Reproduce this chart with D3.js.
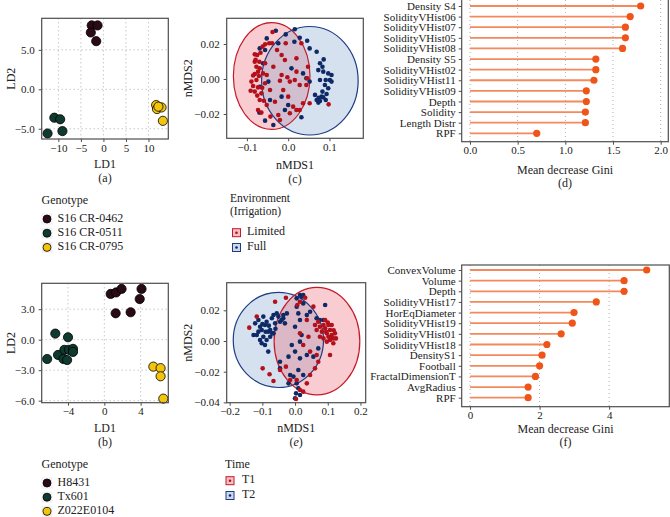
<!DOCTYPE html>
<html><head><meta charset="utf-8">
<script src="https://cdn.jsdelivr.net/npm/d3@7"></script>
<style>
body{margin:0;background:#fff;}
svg{font-family:"Liberation Serif","DejaVu Serif",serif;}
</style></head>
<body>
<svg id="chart" width="670" height="517"></svg>
<script>
// ---------- DATA ----------
// (a) LDA, genotypes
const genoA = ["S16 CR-0462","S16 CR-0511","S16 CR-0795"];
const ldaA_g1 = [[-2.6,8.1],[-1.3,8.1],[-2.8,7.2],[-1.6,6.1]];
const ldaA_g2 = [[-10.9,-3.6],[-9.6,-3.8],[-12.4,-5.6],[-9.1,-5.3]];
const ldaA_g3 = [[11.7,-2.0],[11.9,-2.5],[12.9,-2.3],[13.2,-4.0],[12.2,-2.2]];
const ticksA_x = [-10,-5,0,5,10];
const ticksA_y = [-5,0,5];

// (b) LDA, genotypes
const genoB = ["H8431","Tx601","Z022E0104"];
const ldaB_g1 = [[0.7,4.5],[1.3,4.65],[1.9,5.0],[4.1,5.0],[3.9,4.0],[1.25,2.6],[2.9,2.7]];
const ldaB_g2 = [[-5.4,0.6],[-4.0,0.24],[-6.3,-1.9],[-5.1,-1.5],[-4.4,-1.0],[-3.9,-1.0],[-3.45,-0.9],[-3.45,-1.2],[-4.5,-1.9],[-4.1,-2.0]];
const ldaB_g3 = [[5.4,-2.65],[6.2,-2.8],[6.2,-3.6],[6.5,-5.8]];
const ticksB_x = [-4,0,4];
const ticksB_y = [-6,-3,0,3];

// (c) nMDS, irrigation
const envC = ["Limited","Full"];
const nmdsC_limited = [[-0.038,0.0269],[-0.046,0.0204],[-0.056,0.0198],[-0.062,0.0185],[-0.081,0.0141],[-0.075,0.0137],[-0.070,0.0099],[-0.081,0.0099],[-0.056,0.0090],[-0.077,0.0070],[-0.069,0.0061],[-0.073,0.0042],[-0.081,0.0029],[-0.071,0.0017],[-0.077,-0.0006],[-0.089,-0.0015],[-0.085,-0.0040],[-0.073,-0.0048],[-0.091,-0.0067],[-0.081,-0.0072],[-0.065,-0.0082],[-0.069,-0.0120],[-0.059,-0.0124],[-0.052,-0.0149],[-0.073,-0.0177],[-0.065,-0.0192],[-0.043,-0.0215],[-0.024,-0.0206],[-0.020,-0.0234],[-0.039,0.0204],[-0.027,0.0166],[-0.016,0.0137],[-0.006,0.0204],[-0.008,0.0109],[-0.036,0.0070],[-0.016,0.0023],[-0.020,-0.0010],[-0.002,0.0010],[0.004,-0.0015],[0.016,-0.0006],[0.020,0.0042],[0.028,-0.0034],[-0.012,-0.0063],[0.000,-0.0101],[-0.032,-0.0130],[0.012,-0.0158],[0.020,-0.0177],[0.004,-0.0196],[0.028,-0.0177],[0.036,-0.0139],[0.044,-0.0034],[0.046,0.0004],[0.048,0.0070],[0.020,0.0118],[0.032,0.0204],[-0.052,0.0023],[-0.044,-0.0063],[-0.056,-0.0024],[-0.061,0.0032],[0.098,-0.0145],[0.052,-0.0139],[-0.079,0.0110],[-0.067,0.0150],[-0.085,0.0020],[-0.063,-0.0050],[-0.075,-0.0095]];
const nmdsC_full = [[-0.030,0.0276],[0.016,0.0284],[-0.006,0.0255],[0.015,0.0213],[0.028,0.0236],[0.046,0.0219],[0.052,0.0175],[0.069,0.0156],[0.086,0.0112],[0.077,0.0090],[0.073,0.0051],[0.083,0.0070],[0.085,0.0042],[0.097,0.0032],[0.105,0.0023],[0.077,-0.0006],[0.091,-0.0006],[0.101,-0.0006],[0.105,-0.0015],[0.089,-0.0034],[0.097,-0.0053],[0.083,-0.0072],[0.093,-0.0086],[0.081,-0.0101],[0.069,-0.0120],[0.074,-0.0107],[0.091,-0.0120],[0.077,-0.0126],[0.073,-0.0135],[0.065,-0.0091],[0.085,-0.0105],[0.052,-0.0015],[0.044,0.0004],[0.032,-0.0219],[-0.008,-0.0177],[-0.036,-0.0263],[-0.056,-0.0238],[-0.070,-0.0192],[-0.069,0.0175],[-0.061,0.0090],[-0.044,-0.0120],[-0.016,-0.0101],[0.000,-0.0149],[0.036,0.0032],[0.008,0.0061],[-0.052,0.0232],[-0.024,0.0204],[-0.056,0.0166],[-0.069,-0.0044],[-0.048,-0.0015]];
// ellipse: [cx, cy, rx, ry]
const ellC_limited = [-0.040,0.0017,0.0928,0.0305];
const ellC_full = [0.0525,-0.0010,0.117,0.031];
const ticksC_x = [-0.1,0,0.1];
const ticksC_y = [-0.02,0,0.02];

// (e) nMDS, time
const timeE = ["T1","T2"];
const nmdsE_t1 = [[0.071,0.0126],[0.076,0.0093],[0.082,0.0061],[0.087,0.0104],[0.092,0.0083],[0.097,0.0050],[0.102,0.0028],[0.107,0.0072],[0.112,0.0039],[0.117,0.0017],[0.122,0.0050],[0.102,0.0104],[0.087,0.0017],[0.076,0.0028],[0.066,0.0072],[0.112,0.0104],[0.097,-0.0004],[0.117,-0.0015],[0.092,0.0137],[0.107,0.0007],[0.125,0.0017],[0.061,0.0104],[-0.140,0.0087],[-0.117,0.0159],[-0.061,0.0256],[-0.028,0.0282],[0.031,0.0282],[0.007,0.0235],[0.015,0.0256],[0.056,0.0224],[0.036,0.0137],[0.015,0.0050],[0.041,0.0028],[0.025,-0.0026],[0.046,-0.0069],[0.061,-0.0178],[0.071,-0.0135],[0.046,-0.0221],[-0.099,-0.0178],[-0.078,-0.0217],[-0.066,-0.0261],[-0.046,-0.0189],[-0.028,-0.0167],[-0.015,-0.0254],[0.005,-0.0254],[0.015,-0.0319],[0.025,-0.0330],[0.003,-0.0378],[0.036,-0.0276],[0.107,-0.0091],[0.066,-0.0091],[0.095,0.0060],[0.110,0.0020],[0.118,0.0070],[0.100,0.0120]];
const nmdsE_t2 = [[-0.122,0.0115],[-0.117,0.0039],[-0.112,0.0137],[-0.107,0.0093],[-0.102,0.0072],[-0.097,0.0159],[-0.092,0.0104],[-0.087,0.0126],[-0.082,0.0061],[-0.076,0.0028],[-0.071,0.0148],[-0.066,0.0169],[-0.061,0.0115],[-0.056,0.0180],[-0.051,0.0159],[-0.046,0.0126],[-0.107,0.0007],[-0.102,-0.0015],[-0.092,-0.0026],[-0.082,-0.0069],[-0.087,0.0007],[-0.097,0.0028],[-0.112,0.0061],[-0.127,0.0039],[-0.076,0.0072],[-0.066,0.0050],[-0.041,0.0137],[-0.036,0.0148],[-0.031,0.0115],[-0.036,0.0169],[-0.025,0.0180],[-0.046,-0.0135],[-0.046,-0.0178],[-0.015,-0.0221],[-0.020,-0.0102],[0.005,0.0224],[0.010,0.0180],[0.015,0.0137],[0.025,0.0245],[0.036,0.0169],[0.046,0.0191],[0.066,0.0148],[0.076,0.0137],[0.087,0.0137],[0.092,0.0235],[0.005,0.0278],[0.015,0.0300],[0.020,0.0289],[0.025,0.0300],[0.071,-0.0048],[0.056,-0.0102],[0.036,-0.0091],[0.015,-0.0113],[0.000,-0.0069],[-0.010,-0.0026],[0.015,-0.0004],[0.020,0.0039],[0.000,0.0093],[0.005,-0.0276],[0.010,-0.0308],[0.003,-0.0341],[0.015,-0.0352],[-0.020,-0.0276],[0.000,-0.0373],[0.010,-0.0189],[-0.005,-0.0232],[0.025,-0.0221],[-0.090,0.0060],[-0.080,0.0100],[-0.070,0.0050],[-0.100,0.0110],[-0.060,0.0080]];
const ellE_t1 = [0.067,-0.0001,0.131,0.035];
const ellE_t2 = [-0.051,0.0007,0.138,0.031];
const ticksE_x = [-0.2,-0.1,0,0.1,0.2];
const ticksE_y = [-0.04,-0.02,0,0.02];

// (d) random forest importance
const featD = ["Density S4","SolidityVHist06","SolidityVHist07","SolidityVHist05","SolidityVHist08","Density S5","SolidityVHist02","SolidityVHist11","SolidityVHist09","Depth","Solidity","Length Distr","RPF"];
const giniD = [1.79,1.68,1.63,1.63,1.60,1.32,1.32,1.30,1.22,1.22,1.21,1.21,0.70];
const ticksD = [0,0.5,1,1.5,2];

// (f) random forest importance
const featF = ["ConvexVolume","Volume","Depth","SolidityVHist17","HorEqDiameter","SolidityVHist19","SolidityVHist01","SolidityVHist18","DensityS1","Football","FractalDimensionT","AvgRadius","RPF"];
const giniF = [5.08,4.43,4.43,3.63,2.99,2.94,2.62,2.21,2.07,2.00,1.88,1.67,1.67];
const ticksF = [0,2,4];

// ---------- DRAW ----------
const svg = d3.select("#chart");
const FONT = "Liberation Serif, DejaVu Serif, serif";
const FRAME = "#4d4d4d", TXT = "#222", GRID = "#9a9a9a";
const genoColors = ["#2a0a16","#0e3a30","#f2c40c"];
const redPt = "#b3101c", bluePt = "#0d2a66";
const redFill = "#e8606c", blueFill = "#7fa3cc";
const redLine = "#c41a2a", blueLine = "#1d3d85";

function styleAxis(a){
  a.select(".domain").remove();
  a.selectAll("line").attr("stroke",FRAME);
  a.selectAll("text").attr("font-size",11).attr("fill",TXT).attr("font-family",FONT);
}
function frameAxes(g, x, y, xt, yt, xf, yf, box, opts){
  opts = opts || {};
  const [x0,x1,y0,y1] = box;
  if(opts.grid){
    g.append("g").selectAll("line").data(xt).join("line")
      .attr("x1",d=>x(d)).attr("x2",d=>x(d)).attr("y1",y0).attr("y2",y1)
      .attr("stroke",GRID).attr("stroke-width",0.8).attr("stroke-dasharray","1,3");
    g.append("g").selectAll("line").data(yt).join("line")
      .attr("x1",x0).attr("x2",x1).attr("y1",d=>y(d)).attr("y2",d=>y(d))
      .attr("stroke",GRID).attr("stroke-width",0.8).attr("stroke-dasharray","1,3");
  }
  styleAxis(g.append("g").attr("transform",`translate(0,${y1})`)
    .call(d3.axisBottom(x).tickValues(xt).tickFormat(xf).tickSize(3).tickPadding(2)));
  styleAxis(g.append("g").attr("transform",`translate(${x0},0)`)
    .call(d3.axisLeft(y).tickValues(yt).tickFormat(yf).tickSize(3).tickPadding(4)));
}
function drawFrame(g, box){
  const [x0,x1,y0,y1] = box;
  g.append("rect").attr("x",x0).attr("y",y0).attr("width",x1-x0).attr("height",y1-y0)
    .attr("fill","none").attr("stroke",FRAME).attr("stroke-width",1.2);
}
function text(g, x, y, s, o){
  o = o || {};
  const t = g.append("text").attr("x",x).attr("y",y).text(s)
    .attr("font-size",o.size||12).attr("fill",TXT).attr("font-family",FONT)
    .attr("text-anchor",o.anchor||"middle").attr("dominant-baseline","middle");
  if(o.rotate) t.attr("transform",`rotate(-90,${x},${y})`);
  return t;
}

// ----- LDA panel -----
function ldaPanel(box, xd, yd, groups, xt, yt, fmtY, titleX, label, legY, legNames){
  const g = svg.append("g");
  const [x0,x1,y0,y1] = box;
  const x = d3.scaleLinear().domain(xd).range([x0,x1]);
  const y = d3.scaleLinear().domain(yd).range([y1,y0]);
  frameAxes(g,x,y,xt,yt,d3.format("d"),fmtY,box,{grid:true});
  groups.forEach((pts,i)=>{
    g.append("g").selectAll("circle").data(pts).join("circle")
      .attr("cx",d=>x(d[0])).attr("cy",d=>y(d[1])).attr("r",4.6)
      .attr("fill",genoColors[i]).attr("stroke","#000").attr("stroke-width",0.8);
  });
  drawFrame(g,box);
  text(g, 12, (y0+y1)/2, "LD2", {rotate:true});
  text(g, (x0+x1)/2, titleX, "LD1");
  text(g, (x0+x1)/2, titleX+14.5, label);
  // legend
  text(g, 41.5, legY, "Genotype", {anchor:"start"});
  legNames.forEach((n,i)=>{
    const yy = legY + 18 + i*14.2;
    g.append("rect").attr("x",41.5).attr("y",yy-5.5).attr("width",11).attr("height",11).attr("fill","#f2f2f2");
    g.append("circle").attr("cx",47).attr("cy",yy).attr("r",4).attr("fill",genoColors[i]).attr("stroke","#000").attr("stroke-width",0.8);
    text(g, 57.5, yy, n, {anchor:"start"});
  });
}
ldaPanel([41.7,168.3,18.3,139],[-13.7,14.4],[-6.3,9.0],[ldaA_g1,ldaA_g2,ldaA_g3],
  ticksA_x,ticksA_y,d3.format(".1f"),165,"(a)",201,genoA);
ldaPanel([41.7,168.3,283.3,402.7],[-6.9,7.05],[-6.2,5.55],[ldaB_g1,ldaB_g2,ldaB_g3],
  ticksB_x,ticksB_y,d3.format(".1f"),429,"(b)",465,genoB);

// ----- nMDS panel -----
function nmdsPanel(box, xd, yd, ells, ptsets, xt, yt, xf, yf, titleX, label, labelItalic, legend){
  const g = svg.append("g");
  const [x0,x1,y0,y1] = box;
  const x = d3.scaleLinear().domain(xd).range([x0,x1]);
  const y = d3.scaleLinear().domain(yd).range([y1,y0]);
  frameAxes(g,x,y,xt,yt,xf,yf,box,{grid:false});
  const fills = [redFill, blueFill], lines = [redLine, blueLine], pc = [redPt, bluePt];
  ells.forEach(e=>{
    g.append("ellipse").attr("cx",x(e[0])).attr("cy",y(e[1]))
      .attr("rx",x(e[0]+e[2])-x(e[0])).attr("ry",y(e[1])-y(e[1]+e[3]))
      .attr("fill",fills[e.k]).attr("fill-opacity",0.32);
  });
  ells.forEach(e=>{
    g.append("ellipse").attr("cx",x(e[0])).attr("cy",y(e[1]))
      .attr("rx",x(e[0]+e[2])-x(e[0])).attr("ry",y(e[1])-y(e[1]+e[3]))
      .attr("fill","none").attr("stroke",lines[e.k]).attr("stroke-width",1.2);
  });
  ptsets.forEach(ps=>{
    g.append("g").selectAll("circle").data(ps.pts).join("circle")
      .attr("cx",d=>x(d[0])).attr("cy",d=>y(d[1])).attr("r",2.3).attr("fill",pc[ps.k]);
  });
  drawFrame(g,box);
  text(g, 189, (y0+y1)/2, "nMDS2", {rotate:true});
  text(g, (x0+x1)/2, titleX, "nMDS1");
  if(labelItalic){
    const t = g.append("text").attr("x",(x0+x1)/2).attr("y",titleX+14).attr("font-size",12).attr("fill",TXT)
      .attr("font-family",FONT).attr("text-anchor","middle").attr("dominant-baseline","middle");
    t.append("tspan").text("(");
    t.append("tspan").attr("font-style","italic").text(label);
    t.append("tspan").text(")");
  } else text(g, (x0+x1)/2, titleX+14, label);
  // legend
  legend.titles.forEach((s,i)=> text(g, legend.x, legend.y + i*13, s, {anchor:"start", size: legend.tsize||12}));
  legend.items.forEach((n,i)=>{
    const yy = legend.itemY + i*14.8;
    const cx = legend.sx;
    g.append("rect").attr("x",cx-4).attr("y",yy-4).attr("width",8).attr("height",8)
      .attr("fill",fills[i]).attr("fill-opacity",0.4).attr("stroke",lines[i]).attr("stroke-width",1);
    g.append("circle").attr("cx",cx).attr("cy",yy).attr("r",1.3).attr("fill",pc[i]);
    text(g, legend.tx, yy, n, {anchor:"start"});
  });
}
const ellC1 = ellC_limited.slice(); ellC1.k = 0;
const ellC2 = ellC_full.slice(); ellC2.k = 1;
nmdsPanel([226.7,363.3,18.3,138.3],[-0.149,0.182],[-0.0339,0.0347],[ellC1,ellC2],
  [{pts:nmdsC_full,k:1},{pts:nmdsC_limited,k:0}],
  ticksC_x,ticksC_y,d3.format(".1f"),d3.format(".2f"),166,"(c)",false,
  {titles:["Environment","(Irrigation)"],x:230,y:199.5,items:envC,itemY:232.7,sx:236.5,tx:247,tsize:11.5});
const ellE1 = ellE_t1.slice(); ellE1.k = 0;
const ellE2 = ellE_t2.slice(); ellE2.k = 1;
nmdsPanel([226.7,365.7,282.7,402.7],[-0.209,0.216],[-0.0402,0.038],[ellE2,ellE1],
  [{pts:nmdsE_t2,k:1},{pts:nmdsE_t1,k:0}],
  ticksE_x,ticksE_y,d3.format(".1f"),d3.format(".2f"),429.3,"e",true,
  {titles:["Time"],x:225,y:465,items:timeE,itemY:480.7,sx:230,tx:242});

// ----- lollipop panel -----
function lolliPanel(box, xd, feats, vals, xt, xf, rowRange, titleX, label){
  const g = svg.append("g");
  const [x0,x1,y0,y1] = box;
  const x = d3.scaleLinear().domain(xd).range([x0,x1]);
  const y = d3.scalePoint().domain(feats).range(rowRange);
  g.append("g").selectAll("line").data(xt).join("line")
    .attr("x1",d=>x(d)).attr("x2",d=>x(d)).attr("y1",Math.max(y0,0)).attr("y2",y1)
    .attr("stroke",GRID).attr("stroke-width",0.8).attr("stroke-dasharray","1,3");
  styleAxis(g.append("g").attr("transform",`translate(0,${y1})`)
    .call(d3.axisBottom(x).tickValues(xt).tickFormat(xf).tickSize(3).tickPadding(2)));
  styleAxis(g.append("g").attr("transform",`translate(${x0},0)`)
    .call(d3.axisLeft(y).tickSize(3).tickPadding(3)));
  g.append("g").selectAll("line").data(feats).join("line")
    .attr("x1",x(0)).attr("x2",(d,i)=>x(vals[i])).attr("y1",d=>y(d)).attr("y2",d=>y(d))
    .attr("stroke","#f48a5c").attr("stroke-width",1.8);
  g.append("g").selectAll("circle").data(feats).join("circle")
    .attr("cx",(d,i)=>x(vals[i])).attr("cy",d=>y(d)).attr("r",3.6).attr("fill","#ef5518");
  drawFrame(g,box);
  text(g, (x0+x1)/2, titleX, "Mean decrease Gini");
  text(g, (x0+x1)/2, titleX+13, label);
}
lolliPanel([461.7,668.3,-3,141.7],[-0.087,2.08],featD,giniD,ticksD,d3.format(".1f"),[6,133.3],171.5,"(d)");
lolliPanel([461.7,669.3,265,406.7],[-0.24,5.73],featF,giniF,ticksF,d3.format("d"),[270,397.7],430.5,"(f)");
</script>
</body></html>
